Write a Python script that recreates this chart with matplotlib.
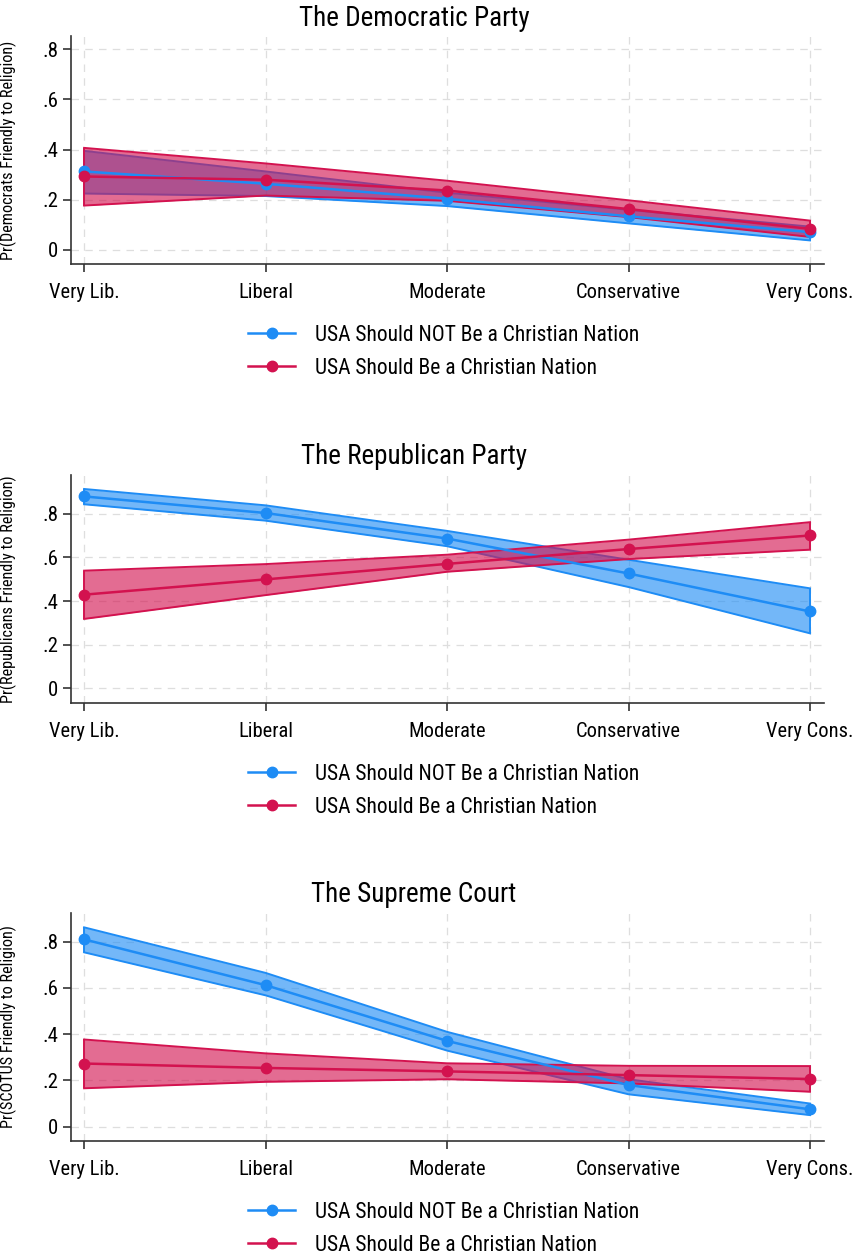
import numpy as np
import matplotlib
matplotlib.use('Agg')
import matplotlib.pyplot as plt
import warnings

warnings.filterwarnings('ignore')

categories = ['Very Lib.', 'Liberal', 'Moderate', 'Conservative', 'Very Cons.']
y_ticks = [0, 0.2, 0.4, 0.6, 0.8]
y_tick_labels = ['0', '.2', '.4', '.6', '.8']
series_labels = ['USA Should NOT Be a Christian Nation', 'USA Should Be a Christian Nation']

# The Democratic Party
dem_not = [0.313, 0.264, 0.204, 0.134, 0.071]
dem_not_lo = [0.225, 0.215, 0.175, 0.106, 0.038]
dem_not_hi = [0.395, 0.313, 0.228, 0.160, 0.093]
dem_yes = [0.293, 0.280, 0.237, 0.163, 0.084]
dem_yes_lo = [0.177, 0.217, 0.196, 0.131, 0.052]
dem_yes_hi = [0.407, 0.345, 0.276, 0.198, 0.117]

# The Republican Party
rep_not = [0.879, 0.803, 0.686, 0.526, 0.352]
rep_not_lo = [0.843, 0.768, 0.651, 0.464, 0.252]
rep_not_hi = [0.913, 0.838, 0.721, 0.589, 0.458]
rep_yes = [0.429, 0.499, 0.570, 0.638, 0.700]
rep_yes_lo = [0.318, 0.427, 0.534, 0.592, 0.635]
rep_yes_hi = [0.539, 0.569, 0.612, 0.681, 0.761]

# The Supreme Court
sc_not = [0.810, 0.612, 0.371, 0.180, 0.075]
sc_not_lo = [0.754, 0.568, 0.329, 0.140, 0.050]
sc_not_hi = [0.862, 0.665, 0.410, 0.205, 0.100]
sc_yes = [0.273, 0.254, 0.239, 0.223, 0.206]
sc_yes_lo = [0.166, 0.194, 0.205, 0.187, 0.151]
sc_yes_hi = [0.377, 0.317, 0.274, 0.263, 0.262]

BLUE = '#1e8cf5'
RED = '#d3124f'
FONT = ['Liberation Sans Narrow', 'Roboto Condensed', 'Roboto', 'DejaVu Sans']

plt.rcParams['font.family'] = FONT

W, H = 858, 1255
fig = plt.figure(figsize=(W / 100, H / 100), dpi=100)


def px_axes(left, top, right, bottom):
    return fig.add_axes([left / W, 1 - bottom / H, (right - left) / W, (bottom - top) / H])


def draw_panel(top, bottom, ylim, title, ylabel, not_vals, yes_vals):
    ax = px_axes(71, top, 824, bottom)
    x = np.arange(1, 6)

    # confidence bands with outlined edges
    for (mid, lo, hi), color in zip([not_vals, yes_vals], [BLUE, RED]):
        ax.fill_between(x, lo, hi, color=color, alpha=0.62, lw=0, zorder=2)
        ax.plot(x, lo, color=color, lw=1.4, zorder=2)
        ax.plot(x, hi, color=color, lw=1.4, zorder=2)
        ax.vlines(x[[0, -1]], np.array(lo)[[0, -1]], np.array(hi)[[0, -1]], color=color, lw=1.4, zorder=2)

    handles = []
    for (mid, lo, hi), color, lab in zip([not_vals, yes_vals], [BLUE, RED], series_labels):
        h, = ax.plot(x, mid, color=color, lw=1.8, marker='o', ms=7.5, zorder=3, label=lab)
        handles.append(h)

    ax.set_xlim(0.928, 5.077)
    ax.set_ylim(*ylim)
    ax.set_xticks(x)
    ax.set_xticklabels(categories, fontsize=14.8)
    ax.set_yticks(y_ticks)
    ax.set_yticklabels(y_tick_labels, fontsize=15)
    ax.tick_params(axis='x', length=6, width=1.2, color='#333333', pad=8)
    ax.tick_params(axis='y', length=6, width=1.2, color='#333333', pad=3)

    ax.grid(True, color='#dedede', linestyle=(0, (6, 5)), lw=0.9, zorder=0)
    ax.set_axisbelow(True)
    for s in ['top', 'right']:
        ax.spines[s].set_visible(False)
    for s in ['left', 'bottom']:
        ax.spines[s].set_color('#333333')
        ax.spines[s].set_linewidth(1.2)

    ax.set_ylabel(ylabel, fontsize=11.7)
    ax.yaxis.set_label_coords(-0.072, 0.5)

    fig.text(414 / W, 1 - (top - 18) / H, title, fontsize=19.5, ha='center', va='center')

    ax.legend(handles=handles, loc='upper left', bbox_to_anchor=(248 / W, 1 - (bottom + 61) / H),
              bbox_transform=fig.transFigure, frameon=False, fontsize=15.5, borderpad=0,
              borderaxespad=0, handlelength=2.2, handletextpad=0.9, labelspacing=0.54)
    return ax


draw_panel(36, 264, (-0.056, 0.853), 'The Democratic Party',
           'Pr(Democrats Friendly to Religion)',
           (dem_not, dem_not_lo, dem_not_hi), (dem_yes, dem_yes_lo, dem_yes_hi))
draw_panel(475, 703, (-0.067, 0.977), 'The Republican Party',
           'Pr(Republicans Friendly to Religion)',
           (rep_not, rep_not_lo, rep_not_hi), (rep_yes, rep_yes_lo, rep_yes_hi))
draw_panel(913, 1141, (-0.062, 0.924), 'The Supreme Court',
           'Pr(SCOTUS Friendly to Religion)',
           (sc_not, sc_not_lo, sc_not_hi), (sc_yes, sc_yes_lo, sc_yes_hi))

fig.savefig('out.png', dpi=100)
